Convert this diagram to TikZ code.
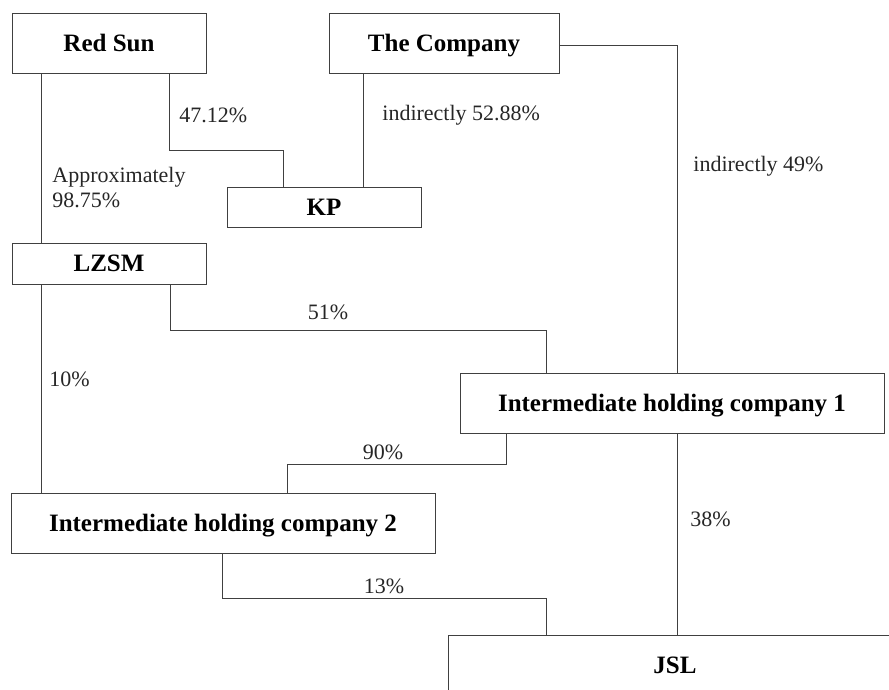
\documentclass[tikz,border=0pt]{standalone}
\usepackage{fontspec}
\setmainfont{Liberation Serif}
\begin{document}
\begin{tikzpicture}[x=1pt,y=-1pt,line width=.8pt]

        \useasboundingbox (0,0) rectangle (889,690);
        \clip (0,0) rectangle (889,690);

        \begin{scope}[every node/.style={rectangle,draw=black!75,inner sep=0pt,
            text height=16.5pt,text depth=0pt,
            font=\fontsize{25}{30}\selectfont\bfseries}]
          \node[minimum width=194,minimum height=60] (redsun)  at (109,43)  {Red Sun};
          \node[minimum width=230,minimum height=60] (company) at (444,43)  {The Company};
          \node[minimum width=194,minimum height=40] (kp)      at (324,207) {KP};
          \node[minimum width=194,minimum height=41] (lzsm)    at (109,263.5) {LZSM};
          \node[minimum width=424,minimum height=60] (ihc1)    at (672,403) {Intermediate holding company 1};
          \node[minimum width=424,minimum height=60] (ihc2)    at (223,523) {Intermediate holding company 2};
          \node[minimum width=454,minimum height=60] (jsl)     at (675,665) {JSL};
        \end{scope}

        \begin{scope}[draw=black!75]
          \draw ([xshift=30]redsun.south west) -- ([xshift=30]redsun.south west |- lzsm.north);
          \draw ([xshift=158]redsun.south west) -- ++(0,77) -| ([xshift=57]kp.north west);
          \draw ([xshift=35]company.south west) -- ([xshift=35]company.south west |- kp.north);
          \draw ([yshift=-2]company.east) -| ([xshift=218]ihc1.north west);
          \draw ([xshift=159]lzsm.south west) -- ++(0,46) -| ([xshift=87]ihc1.north west);
          \draw ([xshift=30]lzsm.south west) -- ([xshift=30]lzsm.south west |- ihc2.north);
          \draw ([xshift=47]ihc1.south west) -- ++(0,31) -| ([xshift=277]ihc2.north west);
          \draw ([xshift=212]ihc2.south west) -- ++(0,45) -| ([xshift=99]jsl.north west);
          \draw ([xshift=218]ihc1.south west) -- ([xshift=218]ihc1.south west |- jsl.north);
        \end{scope}

        \begin{scope}[every node/.style={inner sep=0pt,text=black!85,
            font=\fontsize{22}{25}\selectfont}]
          \node[anchor=west] (l4712) at (179,115) {47.12\%};
          \node[anchor=west] (l5288) at (382,115) {indirectly 52.88\%};
          \node[anchor=west,align=left] (l9875) at (52,188) {Approximately\\98.75\%};
          \node[anchor=west] (l49)   at (693,166) {indirectly 49\%};
          \node (l51)   at (328,312) {51\%};
          \node[anchor=west] (l10)   at (49,379)  {10\%};
          \node (l90)   at (383,452) {90\%};
          \node[anchor=west] (l38)   at (690,519) {38\%};
          \node (l13)   at (384,586) {13\%};
        \end{scope}

      \end{tikzpicture}
\end{document}
